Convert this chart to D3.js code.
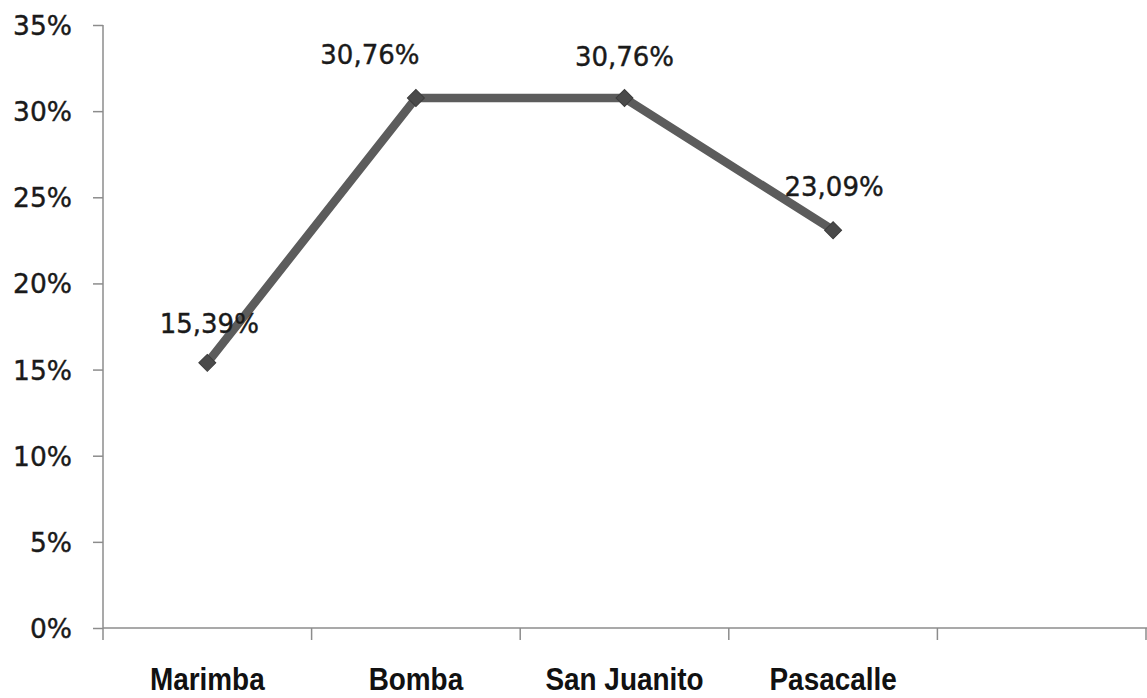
<!DOCTYPE html>
<html><head><meta charset="utf-8">
<script src="https://cdn.jsdelivr.net/npm/d3@7"></script>
<style>body{margin:0;background:#fff}svg{display:block}</style>
</head><body>
<svg id="c" width="1147" height="698"></svg>
<script>
const categories = ["Marimba", "Bomba", "San Juanito", "Pasacalle", ""];
const values = [15.39, 30.76, 30.76, 23.09];
const valueLabels = ["15,39%", "30,76%", "30,76%", "23,09%"];
const yTicks = [0, 5, 10, 15, 20, 25, 30, 35];

const svg = d3.select("#c");
const x = d3.scaleBand().domain(categories.map((c,i)=>i)).range([103, 1146]);
const y = d3.scaleLinear().domain([0, 35]).range([628, 25]);
const numFont = "'DejaVu Sans', 'Noto Sans', sans-serif";

// y axis
const ya = svg.append("g").attr("transform","translate(103,0)")
  .call(d3.axisLeft(y).tickValues(yTicks).tickSize(10).tickPadding(21).tickFormat(d=>d+"%"));
ya.select(".domain").attr("stroke","#8c8c8c").attr("stroke-width",1.5).attr("d","M0,25V628");
ya.selectAll(".tick line").attr("stroke","#8c8c8c").attr("stroke-width",1.5);
ya.selectAll(".tick text").attr("font-family",numFont)
  .attr("font-size",26.5).attr("fill","#1a1a1a").attr("stroke","#1a1a1a").attr("stroke-width",0.4).attr("dy","0.36em");

// x axis
const xa = svg.append("g").attr("transform","translate(0,628)")
  .call(d3.axisBottom(x).tickSize(0).tickFormat(i=>categories[i]));
xa.select(".domain").attr("stroke","#8c8c8c").attr("stroke-width",1.5).attr("d","M103,0H1147");
xa.selectAll(".tick text")
  .attr("font-family","'Liberation Sans Narrow', 'Arial Narrow', 'Liberation Sans', sans-serif")
  .attr("font-weight","bold").attr("font-size",31).attr("fill","#111")
  .attr("y",0).attr("dy",0)
  .attr("transform","translate(0,62) scale(0.9,1)");
// category boundary ticks
const bounds = categories.map((c,i)=>x(i)).concat([x(categories.length-1)+x.bandwidth()]);
svg.append("g").selectAll("line").data(bounds).join("line")
  .attr("x1",d=>d).attr("x2",d=>d).attr("y1",628).attr("y2",640)
  .attr("stroke","#8c8c8c").attr("stroke-width",1.5);

const cx = i => x(i) + x.bandwidth()/2;
const line = d3.line().x((d,i)=>cx(i)).y(d=>y(d));
svg.append("path").datum(values).attr("d",line)
  .attr("fill","none").attr("stroke","#5c5c5c").attr("stroke-width",8.5).attr("stroke-linejoin","round");

svg.append("g").selectAll("path").data(values).join("path")
  .attr("transform",(d,i)=>`translate(${cx(i)},${y(d)}) rotate(45)`)
  .attr("d","M-6,-6H6V6H-6Z").attr("fill","#4a4a4a").attr("stroke","#3c3c3c").attr("stroke-width",1);

const labelDx = [2, -46, 0, 1];
const labelDy = [-30, -34, -32, -34];
svg.append("g").selectAll("text").data(values).join("text")
  .attr("x",(d,i)=>cx(i)+labelDx[i]).attr("y",(d,i)=>y(d)+labelDy[i])
  .attr("text-anchor","middle")
  .attr("font-family",numFont).attr("font-size",26).attr("fill","#1a1a1a")
  .attr("stroke","#1a1a1a").attr("stroke-width",0.4)
  .text((d,i)=>valueLabels[i]);
</script>
</body></html>
